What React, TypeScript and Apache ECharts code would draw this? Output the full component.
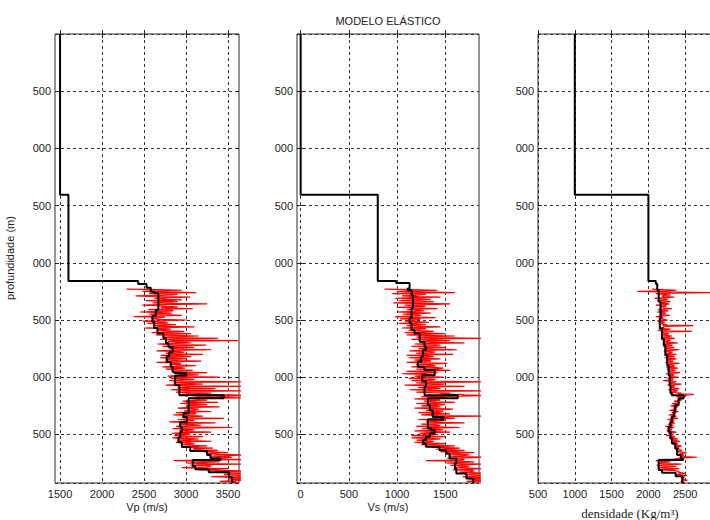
import React, { useEffect, useRef } from "react";
import * as echarts from "echarts";

const titleText = "MODELO ELÁSTICO";
const yName = "profundidade (m)";
const xNames = ["Vp (m/s)", "Vs (m/s)", "densidade (Kg/m³)"];

const depthMax = 3925;
const depthInterval = 500;

const vpTicks = [1500, 2000, 2500, 3000, 3500];
const vsTicks = [0, 500, 1000, 1500];
const rhoTicks = [500, 1000, 1500, 2000, 2500];

// Blocky (smoothed) model: top depth of each layer and its value
const vpTops = [0, 1406, 2160, 2186, 2218, 2253, 2267, 2413, 2466, 2516, 2571, 2615, 2658, 2702, 2737, 2781, 2816, 2868, 2909, 2953, 2964, 2986, 3070, 3157, 3185, 3314, 3349, 3393, 3437, 3480, 3524, 3568, 3611, 3646, 3681, 3708, 3725, 3778, 3804, 3830, 3874];
const vpVals = [1500, 1600, 2430, 2530, 2580, 2620, 2670, 2640, 2600, 2620, 2660, 2730, 2760, 2790, 2840, 2800, 2770, 2820, 2840, 2860, 3000, 2870, 2920, 3450, 3030, 2970, 3010, 2930, 2950, 2930, 2910, 2950, 3050, 3250, 3290, 3410, 3080, 3110, 3270, 3510, 3550];

const vsTops = [0, 1406, 2160, 2177, 2224, 2239, 2282, 2396, 2483, 2527, 2588, 2615, 2691, 2734, 2763, 2822, 2866, 2909, 2938, 2982, 3034, 3084, 3157, 3185, 3244, 3288, 3347, 3369, 3448, 3463, 3492, 3521, 3550, 3579, 3609, 3638, 3667, 3710, 3754, 3798, 3841, 3885];
const vsVals = [0, 800, 990, 1130, 1110, 1150, 1165, 1150, 1130, 1150, 1180, 1235, 1285, 1300, 1270, 1250, 1215, 1285, 1390, 1260, 1300, 1285, 1630, 1320, 1340, 1370, 1480, 1320, 1355, 1390, 1340, 1300, 1270, 1300, 1440, 1510, 1545, 1615, 1600, 1615, 1720, 1790];

const rhoTops = [0, 1406, 2160, 2183, 2239, 2341, 2486, 2574, 2661, 2720, 2807, 2895, 2982, 3070, 3140, 3157, 3186, 3244, 3303, 3346, 3390, 3434, 3477, 3535, 3579, 3623, 3681, 3710, 3725, 3812, 3836, 3865];
const rhoVals = [1000, 2000, 2100, 2120, 2140, 2165, 2155, 2185, 2210, 2230, 2255, 2275, 2290, 2300, 2320, 2480, 2410, 2365, 2345, 2320, 2300, 2275, 2300, 2320, 2365, 2390, 2440, 2470, 2140, 2185, 2370, 2460];

// Well logs (raw). Samples "A" at 2230 + 10k m, samples "B" at 2235 + 10k m
const logTop = 2230;
const logStep = 10;

const vpLogA = [
  2290, 2950, 2480, 3120, 2560, 2840, 2400, 3050, 2620, 2780,
  2520, 2900, 2600, 3250, 2480, 2760, 2700, 3080, 2550, 2850,
  2450, 2830, 2560, 2950, 2380, 2700, 2620, 3010, 2480, 2760,
  2540, 2880, 2620, 3100, 2500, 2820, 2680, 2980, 2590, 3060,
  2640, 3150, 2720, 3380, 2690, 3620, 2780, 3050, 2660, 3240,
  2720, 3100, 2800, 3300, 2650, 2980, 2760, 3200, 2700, 3060,
  2690, 3000, 2760, 3180, 2650, 2940, 2800, 3120, 2720, 2990,
  2760, 3080, 2830, 3250, 2900, 3150, 2780, 3400, 2820, 3100,
  2800, 3700, 2850, 3200, 2760, 3700, 2900, 3350, 2820, 3700,
  2880, 3300, 2950, 3700, 3400, 3700, 3050, 3250, 2960, 3380,
  2930, 3250, 3000, 3400, 2900, 3150, 3020, 3300, 2880, 3120,
  2850, 3200, 2950, 3450, 2900, 3100, 2800, 3350, 2920, 3180,
  2880, 3550, 2840, 3100, 2920, 3300, 2830, 3050, 2860, 3200,
  2840, 3150, 2900, 3300, 2880, 3080, 2950, 3250, 3000, 3320,
  3080, 3380, 3200, 3500, 3250, 3700, 3300, 3550, 3350, 3700,
  2850, 3400, 3000, 3700, 3050, 3300, 2950, 3500, 3150, 3700,
  3350, 3700, 3450, 3700, 3300, 3700, 3500, 3700, 3400, 3580,
];
const vpLogB = [
  2650, 2700, 2780, 2600, 2900, 2700, 2650, 2820, 2700, 2950,
  2750, 2680, 2850, 2720, 2650, 2900, 2780, 2700, 2820, 2680,
  2700, 2650, 2800, 2620, 2750, 2580, 2680, 2720, 2650, 2780,
  2700, 2780, 2680, 2850, 2720, 2650, 2800, 2750, 2880, 2760,
  2850, 2900, 2800, 3000, 2880, 2820, 2950, 2870, 2800, 2920,
  2900, 2850, 2980, 2820, 2880, 2950, 2800, 2870, 2920, 2830,
  2850, 2780, 2900, 2830, 2870, 2800, 2950, 2860, 2900, 2880,
  2900, 2950, 2880, 3050, 2920, 2980, 3000, 2900, 2960, 2920,
  2950, 3000, 3050, 2900, 3100, 2980, 3050, 2950, 3000, 3080,
  3000, 3100, 3550, 3500, 3100, 3050, 3150, 3080, 3120, 3050,
  3100, 3050, 3150, 3000, 3080, 3120, 2980, 3050, 3100, 3000,
  3020, 3080, 2980, 3100, 3050, 2960, 3020, 3000, 3080, 2990,
  2980, 3050, 3000, 2950, 3080, 2970, 3020, 2940, 3000, 2960,
  2950, 3000, 3050, 2980, 3020, 3100, 3050, 3120, 3150, 3100,
  3200, 3300, 3350, 3300, 3400, 3450, 3500, 3450, 3480, 3200,
  3150, 3200, 3250, 3180, 3300, 3250, 3200, 3350, 3400, 3500,
  3550, 3600, 3580, 3620, 3560, 3600, 3620, 3580, 3600, 3620,
];

const vsLogA = [
  870, 1420, 1000, 1600, 950, 1300, 1050, 1450, 980, 1350,
  1020, 1380, 960, 1550, 1080, 1300, 1000, 1420, 1100, 1280,
  1000, 1350, 1060, 1250, 980, 1400, 1030, 1200, 1080, 1330,
  1020, 1300, 1100, 1450, 1050, 1250, 1120, 1380, 1080, 1500,
  1100, 1600, 1200, 1900, 1150, 1550, 1250, 1700, 1180, 1450,
  1150, 1500, 1220, 1620, 1130, 1400, 1200, 1580, 1100, 1380,
  1120, 1450, 1180, 1350, 1100, 1520, 1200, 1400, 1150, 1480,
  1200, 1550, 1100, 1420, 1050, 1350, 1180, 1480, 1120, 1400,
  1150, 1900, 1200, 1500, 1080, 1700, 1220, 1450, 1130, 1900,
  1200, 1550, 1650, 1900, 1250, 1500, 1180, 1450, 1280, 1600,
  1200, 1500, 1250, 1450, 1180, 1580, 1300, 1480, 1220, 1550,
  1250, 1900, 1380, 1600, 1220, 1500, 1300, 1700, 1250, 1450,
  1200, 1650, 1260, 1480, 1180, 1550, 1230, 1400, 1150, 1500,
  1150, 1450, 1200, 1380, 1180, 1500, 1250, 1600, 1350, 1650,
  1400, 1700, 1450, 1800, 1500, 1750, 1550, 1900, 1520, 1700,
  1300, 1800, 1500, 1900, 1550, 1750, 1600, 1900, 1580, 1800,
  1650, 1900, 1700, 1900, 1680, 1900, 1750, 1900, 1720, 1900,
];
const vsLogB = [
  1150, 1200, 1250, 1100, 1300, 1180, 1220, 1150, 1250, 1200,
  1200, 1250, 1180, 1300, 1220, 1150, 1260, 1200, 1230, 1180,
  1180, 1150, 1220, 1120, 1200, 1170, 1240, 1150, 1200, 1180,
  1200, 1180, 1250, 1220, 1300, 1240, 1280, 1250, 1320, 1280,
  1300, 1350, 1400, 1320, 1380, 1300, 1420, 1350, 1330, 1380,
  1350, 1300, 1380, 1280, 1320, 1350, 1300, 1280, 1330, 1290,
  1300, 1280, 1340, 1260, 1300, 1320, 1350, 1300, 1380, 1420,
  1420, 1300, 1350, 1280, 1300, 1320, 1280, 1330, 1300, 1350,
  1350, 1400, 1320, 1380, 1300, 1350, 1400, 1320, 1360, 1400,
  1350, 1450, 1700, 1650, 1400, 1380, 1420, 1350, 1400, 1380,
  1400, 1380, 1420, 1360, 1400, 1450, 1380, 1420, 1400, 1380,
  1420, 1500, 1520, 1400, 1380, 1420, 1400, 1450, 1380, 1420,
  1400, 1380, 1420, 1350, 1380, 1330, 1350, 1320, 1340, 1300,
  1300, 1320, 1280, 1350, 1330, 1380, 1420, 1480, 1500, 1550,
  1560, 1600, 1620, 1580, 1650, 1680, 1640, 1700, 1680, 1650,
  1650, 1700, 1680, 1720, 1650, 1700, 1750, 1720, 1780, 1760,
  1780, 1820, 1800, 1840, 1820, 1850, 1830, 1850, 1840, 1850,
];

const rhoLogA = [
  2050, 2380, 1850, 2900, 2100, 2300, 2180, 2350, 2080, 2260,
  2120, 2300, 2150, 2280, 2100, 2250, 2180, 2320, 2130, 2270,
  2120, 2240, 2150, 2290, 2100, 2200, 2160, 2260, 2120, 2220,
  2140, 2250, 2610, 2200, 2160, 2300, 2130, 2590, 2170, 2280,
  2180, 2320, 2200, 2360, 2170, 2300, 2220, 2400, 2190, 2330,
  2200, 2350, 2230, 2420, 2210, 2330, 2240, 2380, 2220, 2360,
  2220, 2380, 2250, 2340, 2230, 2420, 2260, 2360, 2240, 2400,
  2250, 2370, 2270, 2430, 2240, 2350, 2280, 2400, 2260, 2340,
  2200, 2380, 2280, 2450, 2260, 2360, 2300, 2420, 2270, 2400,
  2300, 2450, 2620, 2500, 2380, 2470, 2400, 2450, 2350, 2430,
  2320, 2420, 2300, 2400, 2340, 2380, 2290, 2410, 2320, 2370,
  2280, 2380, 2300, 2400, 2260, 2350, 2290, 2360, 2270, 2340,
  2230, 2350, 2260, 2320, 2250, 2380, 2270, 2340, 2240, 2360,
  2280, 2400, 2300, 2430, 2320, 2390, 2340, 2450, 2360, 2420,
  2370, 2460, 2400, 2520, 2420, 2480, 2450, 2660, 2400, 2150,
  2100, 2300, 2130, 2450, 2110, 2380, 2150, 2420, 2130, 2350,
  2400, 2500, 2380, 2520, 2430, 2490, 2450, 2530, 2440, 2480,
];
const rhoLogB = [
  2200, 2250, 2150, 2300, 2180, 2220, 2200, 2250, 2190, 2230,
  2200, 2230, 2190, 2240, 2210, 2180, 2230, 2200, 2220, 2190,
  2190, 2210, 2180, 2200, 2170, 2190, 2210, 2180, 2200, 2190,
  2200, 2190, 2230, 2210, 2220, 2240, 2200, 2230, 2220, 2250,
  2240, 2260, 2250, 2280, 2240, 2270, 2260, 2290, 2250, 2270,
  2270, 2290, 2280, 2300, 2270, 2310, 2290, 2280, 2300, 2290,
  2290, 2310, 2300, 2290, 2320, 2300, 2310, 2330, 2300, 2320,
  2310, 2320, 2300, 2340, 2310, 2330, 2320, 2310, 2340, 2320,
  2330, 2340, 2320, 2360, 2340, 2330, 2350, 2340, 2360, 2350,
  2360, 2400, 2550, 2460, 2430, 2420, 2400, 2410, 2390, 2400,
  2380, 2370, 2390, 2360, 2370, 2380, 2350, 2370, 2360, 2350,
  2340, 2330, 2350, 2320, 2330, 2310, 2330, 2320, 2300, 2320,
  2300, 2290, 2310, 2300, 2320, 2300, 2310, 2330, 2320, 2340,
  2340, 2350, 2370, 2360, 2380, 2400, 2390, 2410, 2400, 2420,
  2420, 2430, 2450, 2460, 2470, 2480, 2500, 2490, 2350, 2180,
  2160, 2200, 2180, 2220, 2190, 2250, 2200, 2300, 2350, 2420,
  2440, 2460, 2450, 2480, 2470, 2490, 2480, 2500, 2470, 2490,
];

const sans = "'Liberation Sans', Arial, Helvetica, sans-serif";
const serif = "'Liberation Serif', 'Times New Roman', serif";

function stepLine(tops: number[], vals: number[], bottom: number) {
  const out: number[][] = [];
  for (let i = 0; i < tops.length; i++) {
    const next = i + 1 < tops.length ? tops[i + 1] : bottom;
    out.push([vals[i], tops[i]]);
    out.push([vals[i], next]);
  }
  return out;
}

function logLine(a: number[], b: number[]) {
  const out: number[][] = [];
  for (let i = 0; i < a.length; i++) {
    out.push([a[i], logTop + i * logStep]);
    out.push([b[i], logTop + i * logStep + logStep / 2]);
  }
  return out;
}

export default function App() {
  const ref = useRef<HTMLDivElement>(null);
  useEffect(() => {
    if (!ref.current) return;
    const chart = echarts.init(ref.current, undefined, { renderer: "svg" });

    const panels = [
      { left: 55, width: 184, min: 1440, max: 3630, ticks: vpTicks, model: stepLine(vpTops, vpVals, depthMax), log: logLine(vpLogA, vpLogB) },
      { left: 297, width: 182, min: -38, max: 1850, ticks: vsTicks, model: stepLine(vsTops, vsVals, depthMax), log: logLine(vsLogA, vsLogB) },
      { left: 538, width: 184, min: 500, max: 3000, ticks: rhoTicks, model: stepLine(rhoTops, rhoVals, depthMax), log: logLine(rhoLogA, rhoLogB) },
    ];

    const grids = panels.map((p) => ({
      left: p.left, top: 34, width: p.width, height: 449,
      outerBoundsMode: "none", containLabel: false,
      show: true, borderColor: "#2a2a2a", borderWidth: 1, backgroundColor: "#fff",
    }));

    const gridLine = { show: true, lineStyle: { color: "#333", width: 1, type: [3, 3] as number[] } };

    const xAxes: any[] = [];
    const yAxes: any[] = [];
    panels.forEach((p, i) => {
      xAxes.push({
        gridIndex: i, type: "value", position: "bottom", min: p.min, max: p.max,
        axisLine: { show: false },
        axisTick: { show: true, inside: true, length: 4, customValues: p.ticks, lineStyle: { color: "#222" } },
        axisLabel: { customValues: p.ticks, margin: 5, fontSize: 11, color: "#222", fontFamily: sans, formatter: (v: number) => String(v) },
        splitLine: gridLine,
      });
      yAxes.push({
        gridIndex: i, type: "value", inverse: true, min: 0, max: depthMax, interval: depthInterval,
        axisLine: { show: false },
        axisTick: { show: true, inside: true, length: 4, lineStyle: { color: "#222" } },
        axisLabel: {
          showMinLabel: false, showMaxLabel: false, margin: 4, fontSize: 11, color: "#222", fontFamily: sans,
          formatter: (v: number) => String(v).slice(-3),
        },
        splitLine: gridLine,
      });
    });
    panels.forEach((p, i) => {
      xAxes.push({
        gridIndex: i, type: "value", position: "top", min: p.min, max: p.max,
        axisLine: { show: false },
        axisTick: { show: true, inside: true, length: 4, customValues: p.ticks, lineStyle: { color: "#222" } },
        axisLabel: { show: false },
        splitLine: { show: false },
      });
      yAxes.push({
        gridIndex: i, type: "value", position: "right", inverse: true, min: 0, max: depthMax, interval: depthInterval,
        axisLine: { show: false },
        axisTick: { show: true, inside: true, length: 4, lineStyle: { color: "#222" } },
        axisLabel: { show: false },
        splitLine: { show: false },
      });
    });

    const series: any[] = [];
    panels.forEach((p, i) => {
      series.push({
        type: "line", xAxisIndex: i, yAxisIndex: i, data: p.log, showSymbol: false, silent: true,
        lineStyle: { color: "#ff0000", width: 1.2 }, clip: true, z: 2,
      });
      series.push({
        type: "line", xAxisIndex: i, yAxisIndex: i, data: p.model, showSymbol: false, silent: true,
        lineStyle: { color: "#000", width: 2 }, clip: true, z: 3,
      });
    });

    chart.setOption({
      animation: false,
      backgroundColor: "#fff",
      grid: grids,
      xAxis: xAxes,
      yAxis: yAxes,
      series,
      graphic: [
        { type: "text", x: 388, y: 21, style: { text: titleText, font: `11px ${sans}`, fill: "#222", textAlign: "center", textVerticalAlign: "middle" } },
        { type: "text", x: 10, y: 258, rotation: Math.PI / 2, style: { text: yName, font: `11px ${sans}`, fill: "#222", textAlign: "center", textVerticalAlign: "middle" } },
        { type: "text", x: 147, y: 507, style: { text: xNames[0], font: `11px ${sans}`, fill: "#222", textAlign: "center", textVerticalAlign: "middle" } },
        { type: "text", x: 388, y: 507, style: { text: xNames[1], font: `11px ${sans}`, fill: "#222", textAlign: "center", textVerticalAlign: "middle" } },
        { type: "text", x: 630, y: 513, style: { text: xNames[2], font: `13px ${serif}`, fill: "#222", textAlign: "center", textVerticalAlign: "middle" } },
      ],
    });
    return () => chart.dispose();
  }, []);
  return <div ref={ref} style={{ position: "absolute", left: 0, top: 0, width: 710, height: 520 }} />;
}
